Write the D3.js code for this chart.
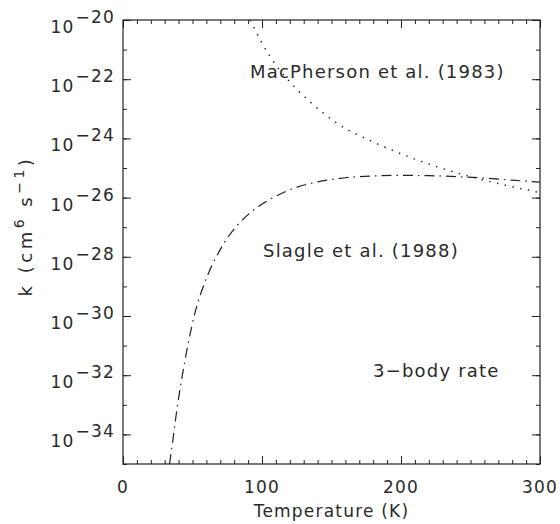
<!DOCTYPE html>
<html>
<head>
<meta charset="utf-8">
<script src="https://cdn.jsdelivr.net/npm/d3@7"></script>
<style>
  body { margin: 0; background: #fff; }
  svg text { font-family: "DejaVu Sans", sans-serif; fill: #2a2a2a; letter-spacing: 1.2px; }
</style>
</head>
<body>
<script>
// temperature ticks (K) and y exponents
var tempTicks = [0, 100, 200, 300];
var expTicks = [-20, -22, -24, -26, -28, -30, -32, -34];

// MacPherson et al. (1983), log10 k
var macT    = [91.5, 100, 110, 120, 135, 155, 180, 200, 230, 265, 300];
var macLogK = [-20, -20.78, -21.52, -22.09, -22.78, -23.52, -24.12, -24.52, -25.02, -25.47, -25.83];

// Slagle et al. (1988)
var slaT    = [33.5, 36, 38.8, 42.4, 46.8, 52, 59, 70, 82, 94, 108, 122, 140, 160, 180, 200, 220, 240, 260, 280, 300];
var slaLogK = [-35, -34.15, -33.15, -32.08, -30.95, -29.85, -28.85, -27.75, -26.95, -26.42, -26.0, -25.7, -25.47, -25.33, -25.27, -25.25, -25.26, -25.29, -25.34, -25.41, -25.48];

var W = 560, H = 524;
var pL = 123, pR = 540, pT = 20, pB = 464;

var svg = d3.select('body').append('svg').attr('width', W).attr('height', H);

var x = d3.scaleLinear().domain([0, 300]).range([pL, pR]);
var y = d3.scaleLog().domain([1e-35, 1e-20]).range([pB, pT]);

function toPts(ts, ls) {
  return ts.map(function (t, i) { return [t, Math.pow(10, ls[i])]; });
}

// ticks, pointing inward on all four sides
var minorT = d3.range(0, 301, 10);
var allExp = d3.range(-35, -19).map(function (e) { return Math.pow(10, e); });
var majExp = expTicks.map(function (e) { return Math.pow(10, e); });

function tickGroup(axis, tx, ty) {
  var g = svg.append('g').attr('transform', 'translate(' + tx + ',' + ty + ')').call(axis);
  g.select('.domain').remove();
  g.selectAll('line').attr('stroke', '#222').attr('stroke-width', 1);
  return g;
}
tickGroup(d3.axisBottom(x).tickValues(minorT).tickSizeInner(-4).tickSizeOuter(0).tickFormat(''), 0, pB);
tickGroup(d3.axisBottom(x).tickValues(tempTicks).tickSizeInner(-8).tickSizeOuter(0).tickFormat(''), 0, pB);
tickGroup(d3.axisTop(x).tickValues(minorT).tickSizeInner(-4).tickSizeOuter(0).tickFormat(''), 0, pT);
tickGroup(d3.axisTop(x).tickValues(tempTicks).tickSizeInner(-8).tickSizeOuter(0).tickFormat(''), 0, pT);
tickGroup(d3.axisLeft(y).tickValues(allExp).tickSizeInner(-4).tickSizeOuter(0).tickFormat(''), pL, 0);
tickGroup(d3.axisLeft(y).tickValues(majExp).tickSizeInner(-8).tickSizeOuter(0).tickFormat(''), pL, 0);
tickGroup(d3.axisRight(y).tickValues(allExp).tickSizeInner(-4).tickSizeOuter(0).tickFormat(''), pR, 0);
tickGroup(d3.axisRight(y).tickValues(majExp).tickSizeInner(-8).tickSizeOuter(0).tickFormat(''), pR, 0);

// frame
svg.append('rect')
  .attr('x', pL).attr('y', pT)
  .attr('width', pR - pL).attr('height', pB - pT)
  .attr('fill', 'none').attr('stroke', '#222').attr('stroke-width', 1.2);

// x tick labels
svg.selectAll('.xl').data(tempTicks).enter().append('text')
  .attr('x', function (d) { return x(d); })
  .attr('y', 493)
  .attr('text-anchor', 'middle')
  .attr('font-size', 17)
  .text(function (d) { return d; });

// y tick labels: 10 with superscript exponent
var yl = svg.selectAll('.yl').data(expTicks).enter().append('text')
  .attr('x', 115)
  .attr('y', function (d) { return y(Math.pow(10, d)) + 13; })
  .attr('text-anchor', 'end')
  .attr('font-size', 17);
yl.append('tspan').text('10');
yl.append('tspan').attr('dy', -10).attr('dx', 1).text(function (d) { return '\u2212' + (-d); });

// axis titles
svg.append('text')
  .attr('x', (pL + pR) / 2).attr('y', 517)
  .attr('text-anchor', 'middle').attr('font-size', 17)
  .text('Temperature (K)');

var yt = svg.append('text')
  .attr('transform', 'translate(32,226) rotate(-90)')
  .attr('text-anchor', 'middle').attr('font-size', 18)
  .style('letter-spacing', '3.5px');
yt.append('tspan').text('k (cm');
yt.append('tspan').attr('dy', -8).attr('font-size', 14).text('6');
yt.append('tspan').attr('dy', 8).text(' s');
yt.append('tspan').attr('dy', -8).attr('font-size', 14).text('\u22121');
yt.append('tspan').attr('dy', 8).text(')');

// curves
svg.append('clipPath').attr('id', 'plot').append('rect')
  .attr('x', pL).attr('y', pT).attr('width', pR - pL).attr('height', pB - pT);

var line = d3.line()
  .x(function (d) { return x(d[0]); })
  .y(function (d) { return y(d[1]); })
  .curve(d3.curveMonotoneX);

svg.append('path').datum(toPts(macT, macLogK))
  .attr('d', line).attr('clip-path', 'url(#plot)')
  .attr('fill', 'none').attr('stroke', '#222').attr('stroke-width', 1.5)
  .attr('stroke-dasharray', '1.4,6.5');

svg.append('path').datum(toPts(slaT, slaLogK))
  .attr('d', line).attr('clip-path', 'url(#plot)')
  .attr('fill', 'none').attr('stroke', '#222').attr('stroke-width', 1.2)
  .attr('stroke-dasharray', '10,5,1.5,5');

// annotations
var ann = svg.append('g').attr('font-size', 18).style('letter-spacing', '1.4px');
ann.append('text').attr('x', 250).attr('y', 78).text('MacPherson et al. (1983)');
ann.append('text').attr('x', 263).attr('y', 257).text('Slagle et al. (1988)');
ann.append('text').attr('x', 373).attr('y', 377).text('3\u2212body rate');
</script>
</body>
</html>
